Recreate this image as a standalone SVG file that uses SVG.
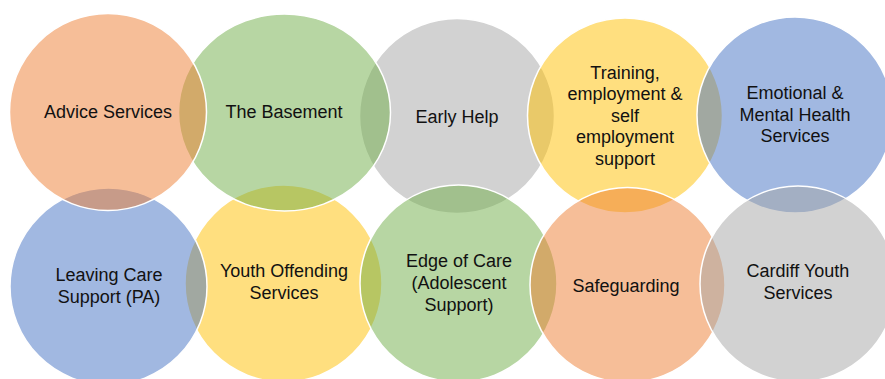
<svg xmlns="http://www.w3.org/2000/svg" width="885" height="379" viewBox="0 0 885 379">
<style>
.c{stroke:#fff;stroke-width:1.5;fill-opacity:.5}
.o{fill:#ED7D31}.g{fill:#70AD47}.k{fill:#A5A5A5}.y{fill:#FFC000}.b{fill:#4472C4}
text{font-family:"Liberation Sans",Arial,sans-serif;font-size:18px;fill:#111;text-anchor:middle}
</style>
<rect width="885" height="379" fill="#fff"/>
<g id="early-help"><circle class="c k" cx="457" cy="116" r="97.5"/><text x="457" y="123">Early Help</text></g>
<g id="training"><circle class="c y" cx="625" cy="115.5" r="97.5"/><text x="625" y="78.5">Training,</text><text x="625" y="100">employment &amp;</text><text x="625" y="121.5">self</text><text x="625" y="143">employment</text><text x="625" y="164.5">support</text></g>
<g id="emotional"><circle class="c b" cx="795" cy="115" r="98"/><text x="795" y="99">Emotional &amp;</text><text x="795" y="120.5">Mental Health</text><text x="795" y="142">Services</text></g>
<g id="youth-offending"><circle class="c y" cx="283.5" cy="283.5" r="98.5"/><text x="284" y="277">Youth Offending</text><text x="284" y="299">Services</text></g>
<g id="edge-of-care"><circle class="c g" cx="458.5" cy="283.5" r="98.5"/><text x="459" y="266.5">Edge of Care</text><text x="459" y="288.5">(Adolescent</text><text x="459" y="310.5">Support)</text></g>
<g id="basement"><ellipse class="c g" cx="284.5" cy="112.5" rx="106" ry="98.5"/><text x="284" y="117.5">The Basement</text></g>
<g id="leaving-care"><circle class="c b" cx="108.5" cy="286.5" r="98.5"/><text x="109" y="280.5">Leaving Care</text><text x="109" y="302.5">Support (PA)</text></g>
<g id="advice"><circle class="c o" cx="108" cy="112" r="98.5"/><text x="108" y="117.5">Advice Services</text></g>
<g id="safeguarding"><circle class="c o" cx="627.5" cy="285" r="97.5"/><text x="626" y="291.5">Safeguarding</text></g>
<g id="cardiff-youth"><circle class="c k" cx="798" cy="284" r="98"/><text x="798" y="277">Cardiff Youth</text><text x="798" y="299">Services</text></g>
<g id="connectors"/>
</svg>
